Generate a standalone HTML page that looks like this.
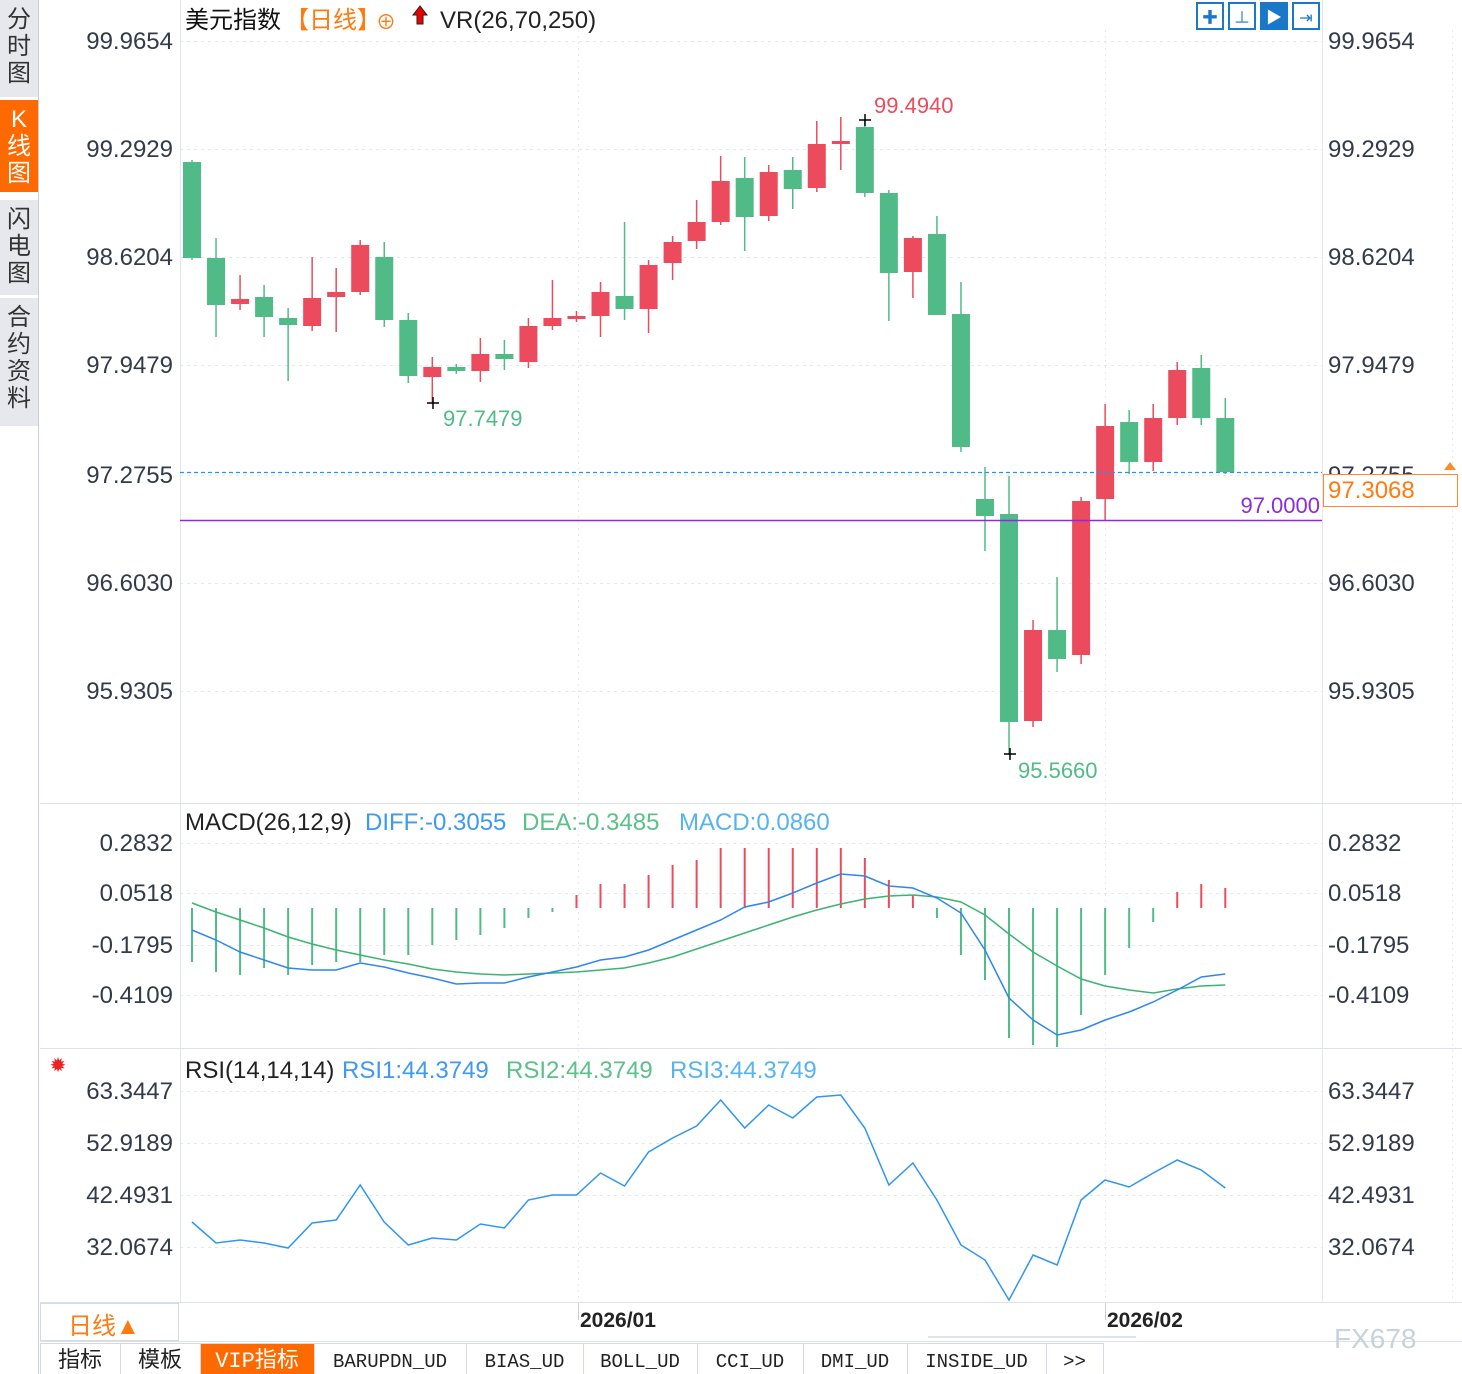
<!DOCTYPE html>
<html><head><meta charset="utf-8">
<style>
html,body{margin:0;padding:0;background:#fff;width:1462px;height:1374px;overflow:hidden;font-family:"Liberation Sans","Noto Sans CJK SC",sans-serif}
#wrap{position:relative;width:1462px;height:1374px}
svg{position:absolute;left:0;top:0}
</style></head><body><div id="wrap">
<svg id="s" width="1462" height="1374" xmlns="http://www.w3.org/2000/svg" font-family="Liberation Sans, Noto Sans CJK SC, sans-serif"></svg>
</div>
<script>
const S=document.getElementById('s');let h='';
const R='#ec4b5e',G='#51bb87',B='#2f8ff0',GL='#4cbf7e',TX='#333a4a';
h+='<rect x="0" y="0" width="38" height="1374" fill="#fff"/><line x1="38.5" y1="0" x2="38.5" y2="1374" stroke="#c9ced8"/>';
const tabs=[[0,97,['分','时','图'],0],[100,92,['K','线','图'],1],[200,95,['闪','电','图'],0],[298,128,['合','约','资','料'],0]];
tabs.forEach(t=>{h+=`<rect x="0" y="${t[0]}" width="38" height="${t[1]}" fill="${t[3]?'#ff6a00':'#e6e8ee'}"/>`;
t[2].forEach((c,i)=>{h+=`<text x="19" y="${t[0]+27+i*27}" font-size="24" text-anchor="middle" fill="${t[3]?'#fff':'#333'}">${c}</text>`});});
h+='<line x1="40" y1="803.5" x2="1462" y2="803.5" stroke="#dde2ea"/><line x1="40" y1="1048.5" x2="1462" y2="1048.5" stroke="#dde2ea"/><line x1="40" y1="1302.5" x2="1462" y2="1302.5" stroke="#dde2ea"/>';
h+='<line x1="180.5" y1="0" x2="180.5" y2="1302" stroke="#e3e7ee"/><line x1="1322.5" y1="0" x2="1322.5" y2="1302" stroke="#e3e7ee"/>';
h+='<line x1="578.5" y1="30" x2="578.5" y2="1302" stroke="#e6e9ef" stroke-dasharray="2,4"/><line x1="1105.5" y1="30" x2="1105.5" y2="1302" stroke="#e6e9ef" stroke-dasharray="2,4"/><line x1="1452.5" y1="30" x2="1452.5" y2="1302" stroke="#e6e9ef" stroke-dasharray="2,4"/>';
function ax(y,t){h+=`<line x1="180" y1="${y}.5" x2="1322" y2="${y}.5" stroke="#e3e7ee" stroke-dasharray="3,4"/>`;
h+=`<text x="173" y="${y+8}" font-size="24" text-anchor="end" fill="${TX}">${t}</text><text x="1328" y="${y+8}" font-size="24" fill="${TX}">${t}</text>`;}
[[41,'99.9654'],[149,'99.2929'],[257,'98.6204'],[365,'97.9479'],[475,'97.2755'],[583,'96.6030'],[691,'95.9305'],
[843,'0.2832'],[893,'0.0518'],[945,'-0.1795'],[995,'-0.4109'],[1091,'63.3447'],[1143,'52.9189'],[1195,'42.4931'],[1247,'32.0674']].forEach(a=>ax(a[0],a[1]));
h+=`<text x="185" y="28" font-size="24" fill="#111">美元指数</text><text x="285" y="28" font-size="24" fill="#ff7a10">【日线】</text><text x="376" y="29" font-size="20" fill="#ff7a10">⊕</text>`;
h+=`<path d="M420 6 L413 15 L417 15 L417 24 L423 24 L423 15 L427 15Z" fill="#e00" stroke="#222" stroke-width="1"/><text x="440" y="28" font-size="24" fill="#222">VR(26,70,250)</text>`;
[1197,1229,1261,1293].forEach((x,i)=>{h+=`<rect x="${x}" y="3" width="26" height="26" fill="${i==2?'#1a78c8':'#fff'}" stroke="#1a78c8" stroke-width="2"/>`;
h+=`<text x="${x+13}" y="23" font-size="16" text-anchor="middle" fill="${i==2?'#fff':'#1a78c8'}">${['✚','⊥','▶','⇥'][i]}</text>`});
const C=[[162,258,160,260,0],[258,305,238,337,0],[299,304,275,310,1],[297,317,285,337,0],[318,325,308,381,0],[298,326,257,331,1],[292,297,268,332,1],[245,292,240,295,1],[257,320,242,327,0],[320,376,313,383,0],[367,377,357,403,1],[367,371,364,374,0],[354,371,338,382,1],[354,359,340,370,0],[326,362,318,368,1],[318,326,280,330,1],[316,319,311,322,1],[292,316,282,337,1],[296,309,222,320,0],[265,309,260,333,1],[242,263,236,280,1],[222,241,200,249,1],[181,222,156,225,1],[178,217,157,251,0],[172,216,165,221,1],[170,189,157,209,0],[144,188,121,192,1],[141,144,117,170,1],[127,193,120,197,0],[193,273,190,321,0],[238,272,236,298,1],[234,315,216,315,0],[314,447,282,452,0],[499,516,467,551,0],[514,722,476,755,0],[630,721,620,727,1],[630,659,577,672,0],[501,655,497,664,1],[426,499,404,520,1],[422,462,410,474,0],[418,462,404,471,1],[370,418,362,425,1],[368,418,355,425,0],[418,472,398,474,0]];
const X=i=>192+i*24.03;
C.forEach((c,i)=>{const x=X(i),col=c[4]?R:G;h+=`<line x1="${x}" y1="${c[2]}" x2="${x}" y2="${c[3]}" stroke="${col}" stroke-width="1.5"/><rect x="${x-9}" y="${c[0]}" width="18" height="${Math.max(2,c[1]-c[0])}" fill="${col}"/>`;});
h+=`<text x="874" y="113" font-size="22" fill="${R}">99.4940</text><path d="M859 120h12M865 114v12" stroke="#000" stroke-width="1.5"/>`;
h+=`<text x="443" y="426" font-size="22" fill="${G}">97.7479</text><path d="M427 403h12M433 397v12" stroke="#000" stroke-width="1.5"/>`;
h+=`<text x="1018" y="778" font-size="22" fill="${G}">95.5660</text><path d="M1004 754h12M1010 748v12" stroke="#000" stroke-width="1.5"/>`;
h+=`<line x1="180" y1="472.5" x2="1322" y2="472.5" stroke="${B}" stroke-width="1.2" stroke-dasharray="4,3"/>`;
h+=`<line x1="180" y1="520.5" x2="1322" y2="520.5" stroke="#8a2be2" stroke-width="1.5"/><text x="1320" y="513" font-size="22" text-anchor="end" fill="#8a2be2">97.0000</text>`;
h+=`<rect x="1323.5" y="474.5" width="134" height="32" fill="#fff" stroke="#ff8a2a"/><text x="1328" y="498" font-size="24" fill="#ff7a10">97.3068</text><path d="M1444 470l6-8 6 8z" fill="#ff8a2a"/>`;
h+=`<text x="185" y="830" font-size="24" fill="#222">MACD(26,12,9)</text><text x="365" y="830" font-size="24" fill="#3d9af2">DIFF:-0.3055</text><text x="522" y="830" font-size="24" fill="#5cc08a">DEA:-0.3485</text><text x="679" y="830" font-size="24" fill="#55b4f0">MACD:0.0860</text>`;
const Hs=[962,972,975,968,975,965,962,962,955,955,945,940,935,928,918,912,895,884,884,875,865,860,848,848,848,848,848,848,858,880,895,918,955,980,1038,1045,1047,1015,975,948,922,892,884,888];
Hs.forEach((v,i)=>{const x=X(i);h+=`<line x1="${x}" y1="908" x2="${x}" y2="${v}" stroke="${v>908?G:R}" stroke-width="2"/>`;});
const D=[930,940,952,960,968,970,970,963,967,973,978,984,983,983,977,972,967,960,957,950,940,930,920,907,902,893,883,874,876,886,888,898,913,950,998,1020,1035,1030,1020,1012,1002,990,977,974];
const E=[903,912,920,928,937,944,950,955,960,964,969,972,974,975,974,973,972,970,968,963,957,949,941,933,925,917,910,904,899,896,895,897,902,915,934,952,966,979,986,990,993,989,986,985];
const pl=(a,c)=>{h+=`<polyline fill="none" stroke="${c}" stroke-width="1.5" points="${a.map((v,i)=>X(i).toFixed(1)+','+v).join(' ')}"/>`;};
pl(E,'#3cb371');pl(D,'#2f86f0');
h+=`<text x="58" y="1072" font-size="20" text-anchor="middle" fill="#e22">✹</text>`;
h+=`<text x="185" y="1078" font-size="24" fill="#222">RSI(14,14,14)</text><text x="342" y="1078" font-size="24" fill="#3d9af2">RSI1:44.3749</text><text x="506" y="1078" font-size="24" fill="#5cc08a">RSI2:44.3749</text><text x="670" y="1078" font-size="24" fill="#55b4f0">RSI3:44.3749</text>`;
pl([1222,1243,1240,1243,1248,1223,1220,1185,1222,1245,1238,1240,1224,1228,1200,1195,1195,1173,1186,1152,1138,1126,1100,1128,1105,1118,1097,1095,1128,1185,1163,1200,1245,1260,1300,1255,1265,1200,1180,1187,1173,1160,1170,1188],'#2f96f0');
h+=`<rect x="40.5" y="1303.5" width="138" height="37" fill="#fff" stroke="#d5dae2"/><text x="68" y="1334" font-size="24" fill="#ff7a10">日线▲</text>`;
h+=`<line x1="40" y1="1341.5" x2="1462" y2="1341.5" stroke="#dde2ea"/><line x1="578.5" y1="1303" x2="578.5" y2="1320" stroke="#ccc"/><line x1="1105.5" y1="1303" x2="1105.5" y2="1320" stroke="#ccc"/>`;
h+=`<text x="580" y="1327" font-size="21" font-weight="bold" fill="#222">2026/01</text><text x="1107" y="1327" font-size="21" font-weight="bold" fill="#222">2026/02</text>`;
h+=`<line x1="928" y1="1337" x2="1136" y2="1337" stroke="#dde3ea" stroke-width="2"/><text x="1334" y="1348" font-size="28" fill="#c9d2dc">FX678</text>`;
const T=[['指标',40,120],['模板',120,200],['VIP指标',200,314],['BARUPDN_UD',314,466],['BIAS_UD',466,583],['BOLL_UD',583,697],['CCI_UD',697,803],['DMI_UD',803,907],['INSIDE_UD',907,1046],['>>',1046,1103]];
h+=`<rect x="40" y="1343" width="1063" height="31" fill="#fff"/>`;
T.forEach((t,i)=>{h+=`<rect x="${t[1]+0.5}" y="1343.5" width="${t[2]-t[1]}" height="31" fill="${i==2?'#ff6a00':'#fff'}" stroke="#d5dae2"/>`;
h+=`<text x="${(t[1]+t[2])/2}" y="1367" font-size="${i<3?22:19}" text-anchor="middle" font-family="Liberation Mono, Noto Sans CJK SC, monospace" fill="${i==2?'#fff':'#222'}">${t[0]}</text>`;});
S.innerHTML=h;
</script></body></html>
